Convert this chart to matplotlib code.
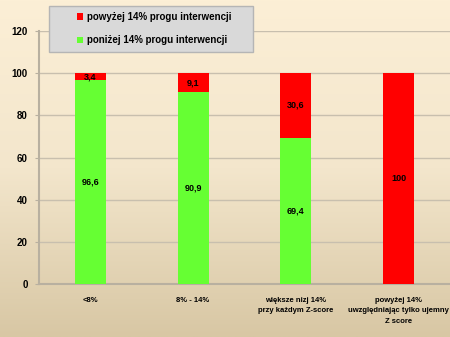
import numpy as np
import matplotlib.pyplot as plt
from matplotlib.colors import LinearSegmentedColormap
from matplotlib.patches import Rectangle

categories = ['<8%', '8% - 14%', 'większe nizj 14%\nprzy każdym Z-score',
              'powyżej 14%\nuwzględniając tylko ujemny\nZ score']
below = [96.6, 90.9, 69.4, 0]
above = [3.4, 9.1, 30.6, 100]
below_labels = ['96,6', '90,9', '69,4', '']
above_labels = ['3,4', '9,1', '30,6', '100']

plt.rcParams['font.family'] = ['Liberation Sans', 'DejaVu Sans']
plt.rcParams['font.weight'] = 'bold'

W, H = 450, 337
fig = plt.figure(figsize=(4.5, 3.37), dpi=100)

# beige gradient behind everything
bg = fig.add_axes([0, 0, 1, 1], zorder=-2)
cmap = LinearSegmentedColormap.from_list('bg', ['#fcefd6', '#f3e6cc', '#d8c7a4'])
bg.imshow(np.linspace(0, 1, 256).reshape(-1, 1), aspect='auto', cmap=cmap,
          extent=[0, 1, 0, 1])
bg.axis('off')

ax = fig.add_axes([39 / W, 53 / H, 411 / W, 253 / H])
ax.patch.set_alpha(0)
x = np.arange(len(categories))
w = 0.3
g = ax.bar(x, below, w, color='#66ff33', zorder=3)
r = ax.bar(x, above, w, bottom=below, color='#ff0000', zorder=3)

for i in range(len(x)):
    if below_labels[i]:
        ax.text(x[i], below[i] / 2, below_labels[i], ha='center', va='center',
                fontsize=6.5, zorder=4)
    ax.text(x[i], below[i] + above[i] / 2, above_labels[i], ha='center', va='center',
            fontsize=6.5, zorder=4)

ax.set_xlim(-0.5, len(x) - 0.5)
ax.set_ylim(0, 120)
ax.set_yticks(range(0, 121, 20))
ax.yaxis.grid(True, color='#c8bfae', linewidth=1, zorder=0)
ax.set_xticks(x)
ax.set_xticklabels(categories, fontsize=5.5, linespacing=1.75)
ax.tick_params(axis='x', length=0, pad=9)
ax.tick_params(axis='y', length=3, color='#b8b0a0', labelsize=7, pad=5)
for s in ['top', 'right']:
    ax.spines[s].set_visible(False)
ax.spines['left'].set_color('#b8b0a0')
ax.spines['left'].set_linewidth(1.5)
ax.spines['bottom'].set_color('#b8b0a0')
ax.spines['bottom'].set_linewidth(1.5)

# legend box, drawn separately so the padding can be wider than tall
fig.patches.append(Rectangle((49 / W, 1 - 52 / H), 204 / W, 46 / H,
                             transform=fig.transFigure, facecolor='#d9d9d9',
                             edgecolor='#b5b5b5', linewidth=1, zorder=4))
leg = fig.legend([r, g], ['powyżej 14% progu interwencji', 'poniżej 14% progu interwencji'],
                 loc='upper left', bbox_to_anchor=(77 / W, 1 - 12 / H),
                 fontsize=7, frameon=False, handlelength=0.6,
                 handleheight=0.6, labelspacing=1.37, borderpad=0,
                 handletextpad=0.4, borderaxespad=0)
leg.set_zorder(5)

fig.savefig('out.png', dpi=100)
